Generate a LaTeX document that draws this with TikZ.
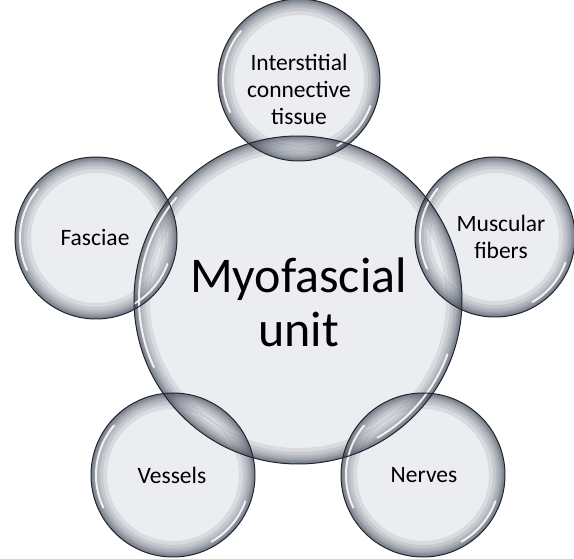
\documentclass[tikz,border=0pt]{standalone}
\usepackage{fontspec}
\setmainfont{Carlito}
\definecolor{bin}{HTML}{E9EBEE}
\definecolor{bdark}{HTML}{3E4656}
\definecolor{rimc}{HTML}{22262D}
% dark band along the inside of the rim, built from stacked translucent rings
\newcommand\rimband[2]{%
  \foreach \d in {1,2,3,4,5,7,9,12,16}{%
    \draw[band, line width=\d pt] (#1.center) circle[radius={#2-\d/2}];
  }%
}
\newcommand\glint[2]{%
  \draw[hl] ([shift={(140:{#2-5})}]#1.center) arc[start angle=140, end angle=205, radius={#2-5}];
  \draw[hl] ([shift={(300:{#2-5})}]#1.center) arc[start angle=300, end angle=340, radius={#2-5}];
}
\begin{document}
\begin{tikzpicture}[x=1pt,y=1pt,
  bubble/.style={circle, inner sep=0pt, outer sep=0pt, minimum size=#1, fill=bin, fill opacity=0.88, draw=none},
  band/.style={draw=bdark, draw opacity=0.11},
  rim/.style={draw=rimc, line width=1pt},
  hl/.style={draw=white, line width=2pt, line cap=round, opacity=0.85},
  lbl/.style={align=center, text=black, font=\fontsize{23.5}{27}\selectfont},
  biglbl/.style={align=center, text=black, font=\fontsize{50}{54}\selectfont}]
\useasboundingbox (0,0) rectangle (574,558);
% circle bodies
\node[bubble=328pt] (unit) at (298,258) {};
\node[bubble=162pt] (inter) at (299,478) {};
\node[bubble=162pt] (fasc) at (96,320) {};
\node[bubble=160pt] (musc) at (495,321) {};
\node[bubble=164pt] (vess) at (173,83) {};
\node[bubble=164pt] (nerv) at (423,83) {};
% rim shading
\rimband{unit}{164}
\rimband{inter}{81}
\rimband{fasc}{81}
\rimband{musc}{80}
\rimband{vess}{82}
\rimband{nerv}{82}
% highlights
\glint{unit}{164}
\glint{inter}{81}
\glint{fasc}{81}
\glint{musc}{80}
\glint{vess}{82}
\glint{nerv}{82}
% outlines
\draw[rim] (unit.center) circle[radius=164pt];
\draw[rim] (inter.center) circle[radius=81pt];
\draw[rim] (fasc.center) circle[radius=81pt];
\draw[rim] (musc.center) circle[radius=80pt];
\draw[rim] (vess.center) circle[radius=82pt];
\draw[rim] (nerv.center) circle[radius=82pt];
% labels
\node[biglbl] (tunit) at (298.5,256) {Myofascial\\unit};
\node[lbl] (tinter) at (299,469) {Interstitial\\connective\\tissue};
\node[lbl] (tfasc) at (95,320) {Fasciae};
\node[lbl] (tmusc) at (501,321) {Muscular\\fibers};
\node[lbl] (tvess) at (172,83) {Vessels};
\node[lbl] (tnerv) at (424,83) {Nerves};
\end{tikzpicture}
\end{document}
